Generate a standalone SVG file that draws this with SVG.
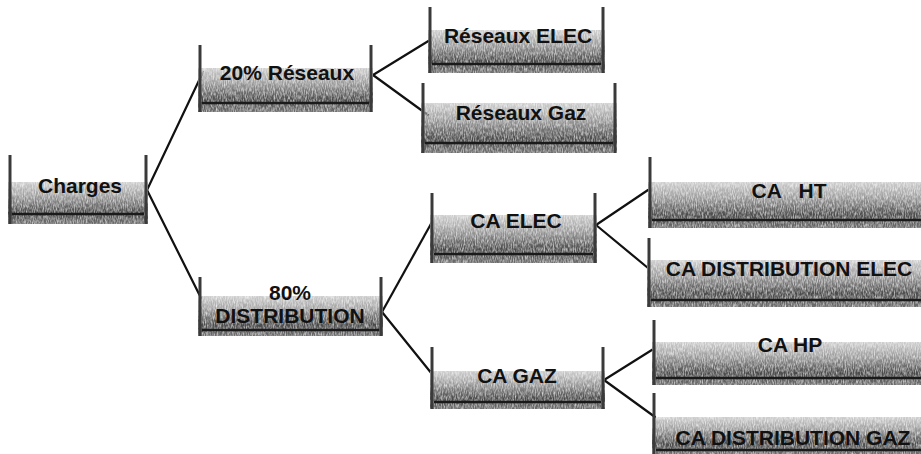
<svg xmlns="http://www.w3.org/2000/svg" width="921" height="454" viewBox="0 0 921 454">
<defs>
<linearGradient id="g" x1="0" y1="0" x2="0" y2="1">
<stop offset="0" stop-color="#cfcfcf"/>
<stop offset="0.35" stop-color="#9a9a9a"/>
<stop offset="0.72" stop-color="#4a4a4a"/>
<stop offset="1" stop-color="#6e6e6e"/>
</linearGradient>
<filter id="grain" x="0" y="0" width="1" height="1">
<feTurbulence type="fractalNoise" baseFrequency="0.9 0.25" numOctaves="2" seed="3" result="n"/>
<feColorMatrix in="n" type="matrix" values="0 0 0 0 0  0 0 0 0 0  0 0 0 0 0  0 0 0 -1.3 1.45" result="a"/>
<feComposite in="SourceGraphic" in2="a" operator="in"/>
</filter>
</defs>
<style>
.body{fill:url(#g);filter:url(#grain)}
.post{stroke:#3a3a3a;stroke-width:3;fill:none}
.base{stroke:#1a1a1a;stroke-width:2.5}
.t{font-family:"Liberation Sans",Arial,sans-serif;font-weight:bold;font-size:21px;fill:#111;text-anchor:middle}
.c{stroke:#111;stroke-width:2.2;fill:none;stroke-linecap:round}
</style>
<rect width="921" height="454" fill="#fff"/>

<g id="connectors">
<line class="c" x1="147" y1="190" x2="203" y2="72"/>
<line class="c" x1="147" y1="190" x2="201" y2="298"/>
<line class="c" x1="373" y1="75" x2="430" y2="40"/>
<line class="c" x1="373" y1="75" x2="428" y2="115"/>
<line class="c" x1="382" y1="312" x2="432" y2="222"/>
<line class="c" x1="382" y1="312" x2="432" y2="374"/>
<line class="c" x1="596" y1="225" x2="648" y2="190"/>
<line class="c" x1="596" y1="225" x2="648" y2="268"/>
<line class="c" x1="604" y1="380" x2="655" y2="348"/>
<line class="c" x1="604" y1="380" x2="655" y2="417"/>
</g>

<g id="charges">
<rect class="body" x="8" y="182" width="140" height="42"/>
<line class="post" x1="10" y1="155" x2="10" y2="224"/>
<line class="post" x1="146" y1="155" x2="146" y2="224"/>
<line class="base" x1="12" y1="214" x2="144" y2="214"/>
<text class="t" x="80" y="193">Charges</text>
</g>

<g id="reseaux20">
<rect class="body" x="198" y="68" width="175" height="44"/>
<line class="post" x1="200" y1="45" x2="200" y2="112"/>
<line class="post" x1="371" y1="45" x2="371" y2="112"/>
<line class="base" x1="202" y1="103" x2="369" y2="103"/>
<text class="t" x="287" y="80">20% Réseaux</text>
</g>

<g id="reseaux-elec">
<rect class="body" x="428" y="30" width="177" height="43"/>
<line class="post" x1="430" y1="7" x2="430" y2="73"/>
<line class="post" x1="603" y1="7" x2="603" y2="73"/>
<line class="base" x1="432" y1="64" x2="601" y2="64"/>
<text class="t" x="518" y="43">Réseaux ELEC</text>
</g>

<g id="reseaux-gaz">
<rect class="body" x="421" y="103" width="196" height="50"/>
<line class="post" x1="423" y1="83" x2="423" y2="153"/>
<line class="post" x1="615" y1="83" x2="615" y2="153"/>
<line class="base" x1="425" y1="143" x2="613" y2="143"/>
<text class="t" x="521" y="120">Réseaux Gaz</text>
</g>

<g id="distribution80">
<rect class="body" x="198" y="296" width="185" height="40"/>
<line class="post" x1="200" y1="277" x2="200" y2="336"/>
<line class="post" x1="381" y1="277" x2="381" y2="336"/>
<line class="base" x1="202" y1="330" x2="379" y2="330"/>
<text class="t" x="290" y="300">80%</text>
<text class="t" x="290" y="323">DISTRIBUTION</text>
</g>

<g id="ca-elec">
<rect class="body" x="430" y="215" width="167" height="48"/>
<line class="post" x1="432" y1="193" x2="432" y2="263"/>
<line class="post" x1="595" y1="193" x2="595" y2="263"/>
<line class="base" x1="434" y1="254" x2="593" y2="254"/>
<text class="t" x="516" y="228">CA ELEC</text>
</g>

<g id="ca-gaz">
<rect class="body" x="430" y="371" width="175" height="38"/>
<line class="post" x1="432" y1="347" x2="432" y2="409"/>
<line class="post" x1="603" y1="347" x2="603" y2="409"/>
<line class="base" x1="434" y1="402" x2="601" y2="402"/>
<text class="t" x="517" y="383">CA GAZ</text>
</g>

<g id="ca-ht">
<rect class="body" x="648" y="182" width="273" height="46"/>
<line class="post" x1="650" y1="157" x2="650" y2="228"/>
<line class="base" x1="652" y1="220" x2="921" y2="220"/>
<text class="t" x="789" y="198" xml:space="preserve">CA   HT</text>
</g>

<g id="ca-distribution-elec">
<rect class="body" x="647" y="260" width="274" height="47"/>
<line class="post" x1="649" y1="238" x2="649" y2="307"/>
<line class="base" x1="651" y1="300" x2="921" y2="300"/>
<text class="t" x="789" y="276">CA DISTRIBUTION ELEC</text>
</g>

<g id="ca-hp">
<rect class="body" x="652" y="342" width="269" height="43"/>
<line class="post" x1="654" y1="320" x2="654" y2="385"/>
<line class="base" x1="656" y1="378" x2="921" y2="378"/>
<text class="t" x="790" y="352">CA HP</text>
</g>

<g id="ca-distribution-gaz">
<rect class="body" x="652" y="417" width="269" height="37"/>
<line class="post" x1="654" y1="393" x2="654" y2="454"/>
<line class="base" x1="656" y1="450" x2="921" y2="450"/>
<text class="t" x="793" y="445">CA DISTRIBUTION GAZ</text>
</g>
</svg>
